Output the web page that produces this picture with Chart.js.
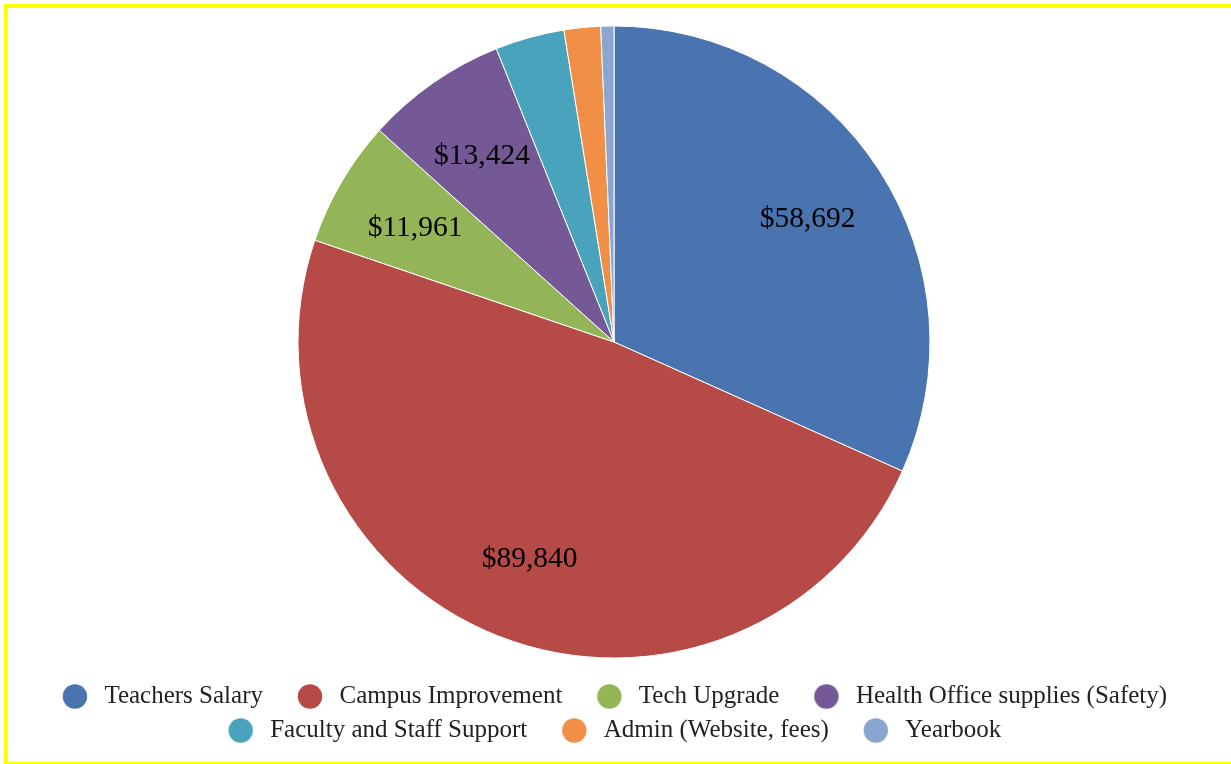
<!DOCTYPE html>
<html>
<head>
<meta charset="utf-8">
<script src="https://cdn.jsdelivr.net/npm/chart.js@4"></script>
<style>
  html, body { margin: 0; padding: 0; background: #fff; overflow: hidden; width: 1231px; height: 764px; }
  .bar { position: absolute; background: #ffff00; }
  #wrap { position: absolute; left: 0; top: 0; width: 1231px; height: 764px; }
</style>
</head>
<body>
<div class="bar" style="left:4px; top:4px; width:1227px; height:4px;"></div>
<div class="bar" style="left:4px; top:4px; width:4px; height:760px;"></div>
<div class="bar" style="left:4px; top:762px; width:1227px; height:2px;"></div>
<div id="wrap"><canvas id="myChart"></canvas></div>
<script>
// budget categories
var categories = ['Teachers Salary', 'Campus Improvement', 'Tech Upgrade', 'Health Office supplies (Safety)',
  'Faculty and Staff Support', 'Admin (Website, fees)', 'Yearbook'];
// dollars spent per category (small slices)
var amounts = [58692, 89840, 11961, 13424, 6550, 3450, 1240];
var colors = ['#4a74b0', '#b54a47', '#94b557', '#745996', '#4aa3bd', '#f08f45', '#8aa6d0'];

// legend marker: a circle with some empty room on its left
function marker(color) {
  var c = document.createElement('canvas');
  c.width = 55; c.height = 25;
  var g = c.getContext('2d');
  g.fillStyle = color;
  g.beginPath();
  g.arc(38, 12.5, 12.2, 0, Math.PI * 2);
  g.fill();
  return c;
}
var markers = colors.map(marker);

// value labels inside the large slices
var sliceLabels = {
  id: 'sliceLabels',
  afterLayout: function(chart) {
    // the marker padding pushes the legend right, pull it back
    chart.legend.left -= 12;
    chart.legend.right -= 12;
  },
  afterDatasetsDraw: function(chart) {
    var ctx = chart.ctx;
    var meta = chart.getDatasetMeta(0);
    var total = amounts.reduce(function(a, b) { return a + b; }, 0);
    ctx.save();
    ctx.font = '29.5px "Liberation Serif"';
    ctx.fillStyle = '#000';
    ctx.textAlign = 'center';
    ctx.textBaseline = 'middle';
    meta.data.forEach(function(arc, i) {
      if (amounts[i] / total < 0.05) return;
      var mid = (arc.startAngle + arc.endAngle) / 2;
      var r = arc.outerRadius * 0.73;
      ctx.fillText('$' + amounts[i].toLocaleString('en-US'), arc.x + Math.cos(mid) * r, arc.y + Math.sin(mid) * r + 3);
    });
    ctx.restore();
  }
};

var ctx = document.getElementById('myChart').getContext('2d');
var myChart = new Chart(ctx, {
  type: 'pie',
  data: {
    labels: categories,
    datasets: [{
      data: amounts,
      backgroundColor: colors,
      borderColor: '#ffffff',
      borderWidth: 1,
      radius: 316
    }]
  },
  options: {
    responsive: true,
    maintainAspectRatio: false,
    animation: false,
    layout: { padding: { top: 9, bottom: 11, left: 0, right: 3 } },
    plugins: {
      tooltip: { enabled: false },
      legend: {
        position: 'bottom',
        labels: {
          usePointStyle: true,
          pointStyleWidth: 55,
          padding: 9,
          color: '#222',
          font: { family: 'Liberation Serif', size: 25 },
          generateLabels: function(chart) {
            var items = Chart.controllers.pie.overrides.plugins.legend.labels.generateLabels(chart);
            items.forEach(function(it, i) { it.pointStyle = markers[i]; });
            return items;
          }
        }
      }
    }
  },
  plugins: [sliceLabels]
});
</script>
</body>
</html>
